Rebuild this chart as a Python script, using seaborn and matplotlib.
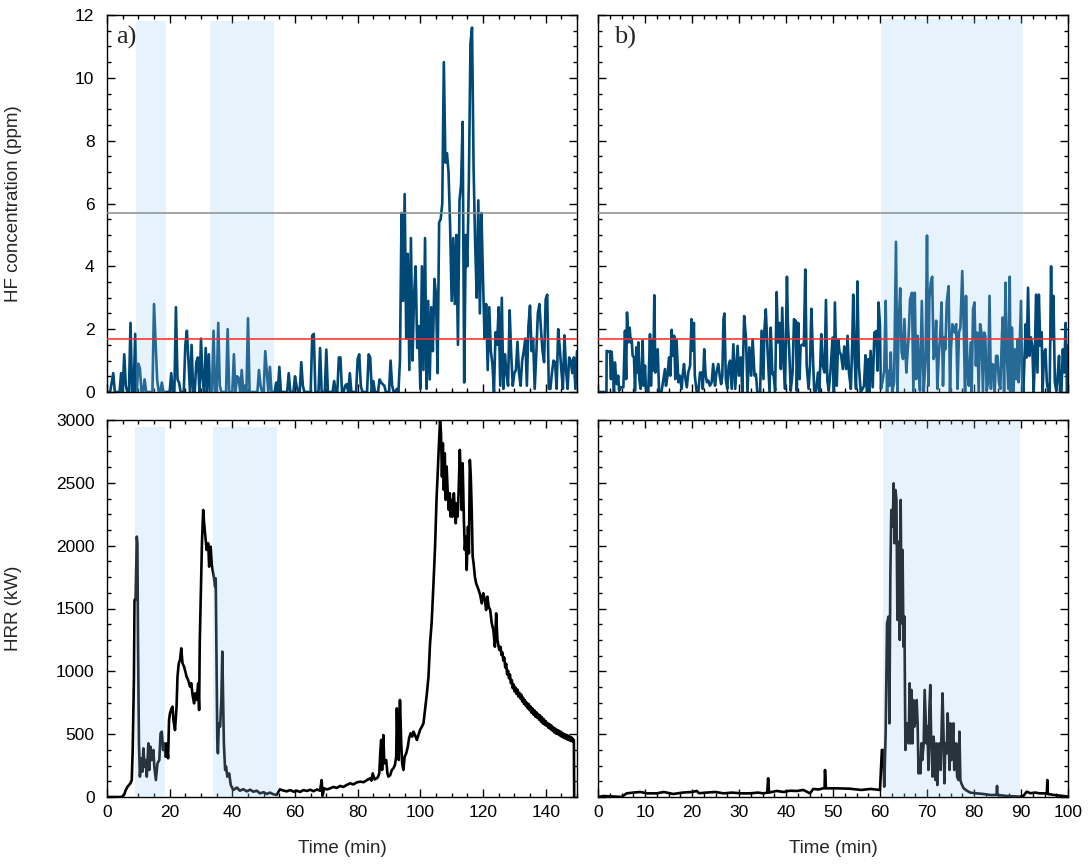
import numpy as np
import matplotlib
matplotlib.use("Agg")
import matplotlib.pyplot as plt
from matplotlib.ticker import MultipleLocator
import seaborn as sns

# ---------------- data ----------------
# HF concentration (ppm), test a): sampled every 0.5 min from 0 to 150 min
hf_a_ppm = [
    0, 0, 0, 0.3, 0.6, 0, 0, 0, 0, 0.6, 0, 1.2, 0.2, 0, 0, 2.2, 0, 0, 1.85, 0,
    0.9, 0.75, 0, 0, 0.4, 0, 0, 0, 0, 0, 2.8, 1.6, 0.4, 0, 0, 0.3, 0, 0, 0, 0,
    0, 0.6, 0, 0, 2.7, 0.4, 0.3, 0, 0, 0, 1.5, 1.95, 1.0, 0, 1.5, 0, 0, 0.95, 1.1, 0,
    1.7, 0.4, 0, 1.4, 0, 1.2, 0, 0, 1.95, 0, 0, 2.2, 0.2, 0, 0, 0, 0, 2.0, 0, 0,
    0, 1.2, 0, 0.5, 0.45, 0, 0.7, 0, 0.2, 0, 2.35, 0, 0, 0, 0, 0, 0, 0.7, 0.2, 0,
    0, 1.3, 0.65, 0, 0.8, 0, 0, 0, 0.3, 0, 0.8, 0, 0, 0, 0, 0, 0.6, 0, 0, 0,
    0.5, 0.2, 0, 0, 0.95, 0.2, 0, 0, 0, 0, 0, 1.8, 1.85, 0, 0, 0, 1.4, 0, 0, 0,
    1.35, 0, 0, 0, 0, 0.35, 0, 0, 1.1, 1.1, 0, 0, 0.2, 0.25, 0, 0.6, 0, 0, 0, 0,
    1.05, 1.2, 0.2, 0, 0, 0, 0, 1.2, 1.1, 0, 0.35, 0, 0, 0, 0.4, 0.3, 0.25, 0.2, 0, 0,
    0, 1.0, 0.2, 0, 0, 0.1, 0, 1.0, 5.7, 2.9, 6.3, 1.7, 4.4, 0.7, 4.9, 1.0, 3.1, 4.0, 1.4, 2.1,
    0.1, 4.0, 0.7, 4.9, 0.1, 2.9, 0.4, 2.7, 1.3, 3.6, 3.1, 0.6, 5.4, 5.5, 6.0, 10.5, 7.3, 7.6, 7.0, 5.3,
    2.9, 4.9, 2.8, 5.0, 1.5, 6.1, 6.6, 8.6, 0.3, 5.0, 4.0, 6.8, 11.1, 11.6, 7.1, 4.7, 3.0, 6.1, 2.5, 5.7,
    3.6, 1.7, 2.8, 0.7, 2.7, 1.3, 0.9, 0, 1.9, 1.5, 2.7, 0.2, 3.0, 0.1, 1.2, 0.6, 0.2, 2.6, 1.2, 0.2,
    0.6, 0.7, 1.6, 0.6, 0.2, 1.0, 1.3, 1.7, 0.2, 2.1, 2.75, 1.3, 1.7, 0.1, 1.2, 2.5, 2.8, 2.0, 1.3, 0.95,
    2.95, 3.1, 0.1, 0.1, 0.6, 1.0, 0.95, 0.1, 2.0, 1.4, 0.7, 0.1, 1.8, 0.7, 0.1, 1.1, 1.0, 0.6, 1.1, 0.1, 1.3,
]
hf_a_time = np.linspace(0, 150, len(hf_a_ppm))

# HF concentration (ppm), test b)
hf_b_time = [
    0, 1.8, 1.84, 2.2, 2.55, 2.76, 2.9, 3.1, 3.4, 3.6,
    3.8, 4.0, 4.3, 4.5, 4.9, 5.4, 5.74, 6.0, 6.17, 6.45,
    6.74, 6.95, 7.16, 7.37, 7.66, 7.87, 8.15, 8.37, 8.58, 8.79,
    9.07, 9.29, 9.5, 9.7, 10.0, 10.2, 10.7, 11.06, 11.27, 11.56,
    11.77, 11.98, 12.2, 12.5, 12.7, 13.0, 13.5, 14.25, 14.46, 14.8,
    15.1, 15.4, 15.67, 15.96, 16.2, 16.45, 16.7, 17.1, 17.4, 17.8,
    18.0, 18.3, 18.5, 18.9, 19.2, 19.6, 19.9, 20.2, 20.4, 20.6,
    21.0, 21.35, 21.7, 22.05, 22.3, 22.6, 22.9, 23.2, 23.5, 23.8,
    24.2, 24.5, 24.9, 25.2, 25.6, 25.9, 26.2, 26.45, 26.7, 26.9,
    27.2, 27.5, 27.8, 28.1, 28.45, 28.8, 29.2, 29.7, 30.0, 30.4,
    30.7, 31.1, 31.5, 31.8, 32.2, 32.6, 32.9, 33.3, 33.6, 33.9,
    34.5, 34.8, 35.2, 35.4, 35.7, 36.0, 36.5, 36.75, 37.1, 37.3,
    37.7, 38.0, 38.3, 38.6, 38.9, 39.2, 39.5, 39.8, 40.2, 40.4,
    40.7, 41.0, 41.4, 41.7, 42.1, 42.3, 42.6, 42.9, 43.1, 43.6,
    43.8, 44.1, 44.4, 44.8, 45.1, 45.4, 45.7, 46.0, 46.4, 46.8,
    47.1, 47.5, 47.8, 48.2, 48.5, 48.8, 49.1, 49.5, 49.9, 50.2,
    50.4, 50.8, 51.1, 51.4, 51.7, 52.1, 52.4, 52.8, 53.1, 53.4,
    53.8, 54.1, 54.3, 54.6, 54.9, 55.2, 55.5, 55.9, 56.3, 56.6,
    56.9, 57.2, 57.5, 57.7, 58.0, 58.45, 58.8, 59.2, 59.45, 59.7,
    60.0, 60.2, 60.5, 60.9, 61.2, 61.5, 61.7, 62.0, 62.3, 62.6,
    63.0, 63.4, 63.7, 64.0, 64.3, 64.6, 64.9, 65.2, 65.6, 65.9,
    66.1, 66.4, 66.8, 67.1, 67.4, 67.7, 68.0, 68.3, 68.5, 68.9,
    69.3, 69.7, 70.0, 70.3, 70.5, 70.8, 71.1, 71.4, 71.7, 71.95,
    72.2, 72.5, 72.8, 73.1, 73.4, 73.7, 73.9, 74.2, 74.6, 74.9,
    75.1, 75.4, 75.6, 75.9, 76.2, 76.5, 76.8, 77.1, 77.5, 77.8,
    78.1, 78.3, 78.6, 78.9, 79.3, 79.5, 79.8, 80.1, 80.4, 80.7,
    81.0, 81.3, 81.6, 81.9, 82.2, 82.4, 82.7, 83.0, 83.3, 83.6,
    83.9, 84.2, 84.4, 84.7, 85.0, 85.3, 85.6, 85.9, 86.1, 86.4,
    86.7, 87.0, 87.3, 87.6, 87.8, 88.1, 88.4, 88.7, 89.0, 89.3,
    89.5, 90.0, 90.25, 90.5, 91.0, 91.2, 91.5, 91.8, 92.1, 92.4,
    92.7, 92.9, 93.2, 93.5, 93.8, 94.1, 94.4, 94.6, 94.9, 95.2,
    95.5, 95.8, 96.1, 96.4, 96.6, 96.9, 97.2, 97.5, 97.8, 98.1,
    98.3, 98.6, 98.9, 99.2, 99.5, 99.8, 100.0,
]
hf_b_ppm = [
    0, 0, 1.31, 1.28, 1.3, 0.41, 1.28, 0.84, 0, 0.94,
    0.52, 0.25, 0.52, 0.04, 0.15, 0.15, 1.95, 0.41, 2.53, 1.58,
    2.05, 1.58, 1.69, 1.15, 1.1, 0.04, 1.42, 0.62, 1.58, 0.41,
    0.1, 0.84, 1.63, 0.2, 0.84, 0.1, 0, 1.84, 0.2, 1.68,
    0.68, 3.08, 0.62, 0.84, 1.36, 0, 0, 0.73, 0.2, 0.52,
    1.1, 0.52, 1.98, 1.15, 1.79, 0.41, 1.68, 0.31, 0.52, 0.1,
    0.52, 0.89, 0.52, 0.15, 0.62, 0.84, 2.32, 1.31, 2.2, 0.52,
    0, 0, 0.62, 0.62, 0.1, 1.36, 0.52, 0.31, 0.36, 0.2,
    0.31, 0.89, 0.2, 0.62, 0.89, 0.52, 0.25, 0.52, 2.32, 2.5,
    0.41, 0.1, 0.84, 1.0, 0.1, 1.52, 0.1, 1.47, 0.52, 1.1,
    0, 2.42, 1.68, 0, 1.42, 0.52, 1.68, 0.52, 0.57, 0,
    0, 1.95, 0.41, 1.95, 2.63, 1.58, 0, 2.05, 0.57, 0.62,
    0.04, 3.18, 1.58, 2.2, 0.73, 2.68, 0.94, 0.1, 3.67, 2.2,
    1.26, 0.04, 0.62, 2.32, 2.26, 0.04, 2.2, 0.41, 1.47, 1.52,
    1.47, 3.9, 0.84, 0.1, 0.84, 2.65, 1.26, 0.04, 0.04, 0.62,
    0, 1.84, 0.84, 0.62, 2.93, 0.36, 0.04, 0.73, 1.73, 0,
    2.85, 0.2, 1.68, 1.26, 1.2, 0.73, 1.45, 0.73, 1.79, 0.62,
    0.1, 1.58, 3.1, 1.05, 0.1, 3.52, 0.84, 0, 0.1, 0.2,
    1.17, 0, 1.05, 0, 1.31, 0.15, 1.89, 1.94, 0.68, 2.85,
    2.11, 0.1, 0.31, 0.68, 2.9, 0, 0.68, 0.2, 1.26, 0,
    0.31, 4.78, 0, 2.21, 3.3, 1.26, 1.05, 2.32, 0.62, 1.36,
    1.79, 2.95, 3.16, 0, 3.16, 0.41, 1.79, 0.62, 0.04, 2.9,
    0, 1.05, 4.98, 0.2, 2.95, 3.48, 3.67, 1.05, 1.26, 2.27,
    0.1, 1.15, 1.79, 2.85, 0.2, 1.74, 1.36, 2.85, 3.37, 0,
    1.36, 2.16, 2.05, 1.89, 2.16, 0.1, 1.89, 2.05, 3.85, 2.11,
    0, 3.06, 0.62, 0.2, 1.58, 0, 2.64, 2.85, 0.84, 1.89,
    0, 2.16, 1.89, 0, 1.89, 1.79, 0.04, 0.31, 3.06, 0.1,
    0.89, 0.84, 0, 1.15, 1.15, 0.31, 0.1, 1.58, 2.37, 0,
    3.48, 1.15, 0.1, 3.67, 0, 2.05, 0, 1.36, 0.41, 1.68,
    0.31, 2.9, 0.31, 0, 2.16, 1.1, 3.32, 1.15, 1.74, 1.47,
    0, 0.84, 3.1, 0.62, 3.1, 1.47, 1.9, 0, 1.26, 1.36,
    0.31, 0, 0, 4.0, 1.68, 3.06, 0.31, 0.04, 0.52, 1.15,
    0, 0, 1.36, 0.62, 2.2, 0, 1.47,
]

# Heat release rate (kW), test a)
hrr_a_time = [
    0, 4.7, 5.5, 6.0, 6.5, 7.0, 7.5, 7.9, 8.2, 8.6,
    8.8, 9.15, 9.5, 9.7, 9.9, 10.2, 10.5, 10.95, 11.3, 11.6,
    12.0, 12.3, 12.7, 13.2, 13.5, 13.9, 14.2, 14.8, 15.1, 15.6,
    16.1, 16.7, 17.1, 17.5, 17.9, 18.3, 18.7, 19.0, 19.5, 19.8,
    20.1, 20.6, 20.9, 21.2, 21.7, 22.2, 22.5, 22.9, 23.3, 23.7,
    24.1, 24.6, 25.0, 25.4, 25.9, 26.5, 26.9, 27.3, 27.8, 28.1,
    28.6, 29.1, 29.4, 29.6, 29.9, 30.3, 30.7, 31.0, 31.5, 31.8,
    32.3, 32.6, 33.1, 33.4, 33.7, 34.1, 34.5, 34.7, 35.0, 35.2,
    35.4, 35.7, 36.1, 36.5, 36.8, 37.1, 37.3, 37.7, 38.0, 38.4,
    39.0, 39.5, 40.3, 41.5, 42.4, 43.5, 44.6, 45.7, 46.7, 47.8,
    48.8, 50.0, 51.0, 52.0, 53.1, 54.1, 55.2, 56.2, 57.3, 58.5,
    59.6, 60.6, 61.6, 62.7, 63.8, 64.9, 65.9, 67.0, 68.0, 68.5,
    68.8, 69.3, 70.2, 71.2, 72.3, 73.3, 74.4, 75.4, 76.5, 77.6,
    78.6, 79.7, 80.8, 81.9, 83.0, 84.0, 84.4, 84.8, 85.4, 86.1,
    86.5, 86.9, 87.2, 87.5, 87.8, 88.2, 88.5, 89.1, 89.5, 89.8,
    90.4, 90.9, 91.4, 91.9, 92.3, 92.5, 92.8, 93.1, 93.5, 93.9,
    94.2, 94.6, 95.0, 95.5, 96.0, 96.4, 96.9, 97.4, 97.8, 98.3,
    98.9, 99.4, 99.9, 100.5, 101.0, 101.5, 102.1, 102.6, 103.1, 103.6,
    104.2, 104.7, 105.2, 105.5, 105.9, 106.3, 106.6, 106.9, 107.2, 107.5,
    107.8, 108.1, 108.4, 108.7, 109.1, 109.4, 109.7, 110.0, 110.3, 110.7,
    111.0, 111.3, 111.6, 111.9, 112.2, 112.6, 112.9, 113.2, 113.5, 113.9,
    114.2, 114.5, 114.8, 115.2, 115.5, 115.8, 116.1, 116.4, 116.7, 117.0,
    117.4, 117.8, 118.2, 118.6, 119.1, 119.6, 120.1, 120.6, 121.0, 121.4,
    121.8, 122.3, 122.8, 123.3, 123.8, 124.2, 124.6, 125.2, 125.6, 125.9,
    126.2, 126.5, 126.8, 127.1, 127.4, 127.7, 128.0, 128.3, 128.6, 128.9,
    129.2, 129.5, 129.8, 130.1, 130.4, 130.7, 131.0, 131.3, 131.6, 131.9,
    132.2, 132.5, 132.8, 133.1, 133.4, 133.7, 134.0, 134.3, 134.6, 134.9,
    135.2, 135.5, 135.8, 136.1, 136.4, 136.7, 137.0, 137.3, 137.6, 137.9,
    138.2, 138.5, 138.8, 139.1, 139.4, 139.7, 140.0, 140.3, 140.6, 140.9,
    141.2, 141.5, 141.8, 142.1, 142.4, 142.7, 143.0, 143.3, 143.6, 143.9,
    144.2, 144.5, 144.8, 145.1, 145.4, 145.7, 146.0, 146.3, 146.6, 146.9,
    147.2, 147.5, 147.8, 148.1, 148.4, 148.7, 149.0, 149.1,
]
hrr_a_kw = [
    0, 0, 20, 56, 80, 95, 110, 135, 374, 958,
    1568, 1568, 2072, 2019, 1223, 427, 162, 308, 202, 387,
    241, 294, 162, 427, 215, 400, 294, 374, 241, 135,
    268, 294, 507, 520, 374, 427, 321, 427, 308, 613,
    666, 706, 719, 613, 533, 719, 958, 1064, 1090, 1183,
    1064, 1037, 997, 958, 931, 878, 905, 812, 745, 825,
    772, 905, 692, 1223, 1568, 2019, 2284, 2178, 2045, 1966,
    2019, 1833, 1992, 1860, 1807, 1754, 1674, 1740, 958, 454,
    348, 586, 560, 772, 1157, 746, 427, 215, 242, 162,
    188, 95, 56, 75, 50, 62, 45, 58, 42, 50,
    29, 38, 24, 35, 22, 16, 61, 52, 45, 55,
    42, 50, 40, 55, 48, 58, 46, 60, 50, 135,
    10, 69, 60, 69, 80, 72, 88, 80, 96, 109,
    100, 116, 122, 118, 135, 149, 130, 188, 140, 149,
    160, 188, 348, 454, 215, 493, 268, 294, 188, 162,
    175, 215, 228, 255, 321, 706, 374, 294, 772, 427,
    268, 215, 321, 348, 400, 467, 507, 480, 520, 493,
    454, 493, 533, 560, 586, 692, 825, 958, 1223, 1382,
    1701, 1992, 2390, 2549, 2788, 3000, 2894, 2549, 2815, 2443,
    2735, 2364, 2629, 2443, 2284, 2417, 2231, 2364, 2231, 2417,
    2284, 2178, 2337, 2231, 2417, 2762, 2549, 2284, 2656, 2204,
    1966, 2072, 1807, 2151, 1939, 2682, 2549, 2284, 1913, 1860,
    1754, 1701, 1674, 1648, 1608, 1541, 1621, 1568, 1488, 1594,
    1515, 1488, 1382, 1329, 1196, 1462, 1250, 1170, 1195, 1130,
    1150, 1085, 1110, 1030, 1060, 975, 1005, 945, 975, 905,
    930, 865, 895, 840, 870, 820, 855, 800, 830, 785,
    815, 760, 790, 740, 770, 725, 750, 705, 740, 690,
    720, 670, 705, 655, 690, 640, 675, 630, 660, 615,
    650, 600, 635, 585, 620, 575, 605, 565, 590, 550,
    580, 540, 570, 530, 555, 515, 545, 505, 535, 500,
    528, 490, 520, 480, 510, 472, 500, 465, 495, 458,
    488, 452, 480, 445, 472, 440, 455, 0,
]

# Heat release rate (kW), test b)
hrr_b_time = [
    0, 1.2, 2.5, 3.8, 5.0, 6.1, 7.5, 9.0, 10.5, 12.5,
    14.0, 16.0, 18.0, 20.0, 21.0, 21.5, 23.0, 25.0, 26.7, 28.5,
    30.5, 32.3, 34.0, 35.2, 36.0, 36.2, 36.4, 38.0, 39.5, 40.8,
    42.3, 43.7, 45.1, 45.8, 47.0, 47.9, 48.2, 48.3, 48.5, 50.8,
    53.6, 56.0, 58.0, 60.0, 60.4, 60.7, 60.9, 61.2, 61.5, 61.8,
    62.0, 62.2, 62.4, 62.7, 62.9, 63.1, 63.3, 63.5, 63.7, 63.9,
    64.2, 64.4, 64.6, 64.8, 65.0, 65.2, 65.4, 65.6, 65.9, 66.1,
    66.3, 66.5, 66.7, 66.9, 67.1, 67.3, 67.6, 67.8, 68.0, 68.2,
    68.4, 68.6, 68.8, 69.0, 69.3, 69.5, 69.7, 69.9, 70.1, 70.3,
    70.5, 70.7, 70.9, 71.2, 71.4, 71.6, 71.8, 72.0, 72.2, 72.4,
    72.6, 72.9, 73.1, 73.3, 73.5, 73.7, 73.9, 74.2, 74.4, 74.6,
    74.8, 75.0, 75.2, 75.4, 75.6, 75.8, 76.0, 76.2, 76.4, 76.7,
    76.9, 77.1, 77.3, 77.8, 78.5, 79.2, 80.5, 82.0, 83.5, 84.8,
    84.9, 85.0, 87.0, 88.5, 89.8, 90.5, 91.2, 92.0, 93.0, 94.0,
    95.5, 95.6, 95.7, 97.0, 98.5, 100.0,
]
hrr_b_kw = [
    0, 8, 5, 3, 0, 29, 35, 40, 29, 29,
    40, 24, 35, 40, 48, 30, 35, 40, 29, 35,
    29, 29, 35, 29, 35, 149, 35, 48, 40, 50,
    48, 56, 29, 64, 60, 69, 69, 215, 69, 69,
    66, 56, 64, 56, 374, 374, 82, 507, 1382, 1435,
    586, 1754, 2284, 2151, 2496, 2019, 2443, 2364, 1409, 2032,
    1250, 2364, 1382, 1966, 1196, 1435, 374, 586, 586, 427,
    905, 427, 852, 427, 772, 560, 610, 772, 586, 188,
    268, 188, 427, 294, 427, 852, 640, 427, 560, 215,
    692, 891, 427, 162, 480, 348, 135, 427, 95, 294,
    427, 215, 533, 825, 533, 109, 427, 348, 666, 427,
    215, 586, 294, 427, 586, 215, 294, 427, 162, 135,
    520, 135, 109, 69, 50, 35, 29, 24, 16, 16,
    88, 16, 8, 5, 3, 8, 42, 30, 35, 29,
    29, 135, 24, 16, 10, 3,
]

# reference levels (ppm) and shaded intervals (min)
hf_levels = [5.7, 1.7]
hf_level_colors = ["#8c8c8c", "#ff2a2a"]
shade_hf_a = [(9.3, 18.7), (32.9, 53.2)]
shade_hrr_a = [(8.9, 18.4), (33.9, 54.2)]
shade_hf_b = [(60.2, 90.4)]
shade_hrr_b = [(60.7, 89.8)]

# ---------------- style ----------------
sns.set_theme(style="ticks")
plt.rcParams["font.family"] = ["Liberation Sans", "DejaVu Sans"]
plt.rcParams["axes.linewidth"] = 1.0

HF_COLOR = "#004876"
SHADE = "#9CD0F8"
FS = 12.5

fig = plt.figure(figsize=(10.9, 8.65), dpi=100)
W, H = 1090, 865


def add_ax(x0, y_top, w=470, h=377):
    return fig.add_axes([x0 / W, 1 - (y_top + h) / H, w / W, h / H])


ax_hf_a = add_ax(107, 15)
ax_hf_b = add_ax(598, 15)
ax_hrr_a = add_ax(107, 420)
ax_hrr_b = add_ax(598, 420)


def style(ax, xmax, xmaj, xmin_, ymax, ymaj, ymin_, xlabels, ylabels):
    ax.set_xlim(0, xmax)
    ax.set_ylim(0, ymax)
    ax.xaxis.set_major_locator(MultipleLocator(xmaj))
    ax.xaxis.set_minor_locator(MultipleLocator(xmin_))
    ax.yaxis.set_major_locator(MultipleLocator(ymaj))
    ax.yaxis.set_minor_locator(MultipleLocator(ymin_))
    ax.tick_params(which="both", direction="in", top=True, right=True,
                   color="black", width=1.0, labelsize=FS, labelcolor="black")
    ax.tick_params(which="major", length=6)
    ax.tick_params(which="minor", length=3)
    ax.tick_params(axis="x", pad=6)
    ax.tick_params(axis="y", pad=9)
    if not xlabels:
        ax.tick_params(axis="x", labelbottom=False)
    if not ylabels:
        ax.tick_params(axis="y", labelleft=False)
    for s in ax.spines.values():
        s.set_color("black")
        s.set_linewidth(1.0)
    ax.set_xlabel("")
    ax.set_ylabel("")


# HF panels
for ax, t, v, shades, top in [
    (ax_hf_a, hf_a_time, hf_a_ppm, shade_hf_a, 0.983),
    (ax_hf_b, hf_b_time, hf_b_ppm, shade_hf_b, 0.99),
]:
    sns.lineplot(x=t, y=v, ax=ax, color=HF_COLOR, linewidth=1.9,
                 estimator=None, sort=False, zorder=2)
    for (a, b) in shades:
        ax.axvspan(a, b, ymin=0, ymax=top, color=SHADE, alpha=0.25, lw=0, zorder=3)
    for lvl, c in zip(hf_levels, hf_level_colors):
        ax.axhline(lvl, color=c, lw=1.1, zorder=4)

# HRR panels
for ax, t, v, shades, top in [
    (ax_hrr_a, hrr_a_time, hrr_a_kw, shade_hrr_a, 0.982),
    (ax_hrr_b, hrr_b_time, hrr_b_kw, shade_hrr_b, 0.995),
]:
    sns.lineplot(x=t, y=v, ax=ax, color="black", linewidth=1.9,
                 estimator=None, sort=False, zorder=2)
    for (a, b) in shades:
        ax.axvspan(a, b, ymin=0, ymax=top, color=SHADE, alpha=0.25, lw=0, zorder=3)

style(ax_hf_a, 150, 20, 5, 12, 2, 0.5, False, True)
style(ax_hf_b, 100, 10, 2.5, 12, 2, 0.5, False, False)
style(ax_hrr_a, 150, 20, 5, 3000, 500, 125, True, True)
style(ax_hrr_b, 100, 10, 2.5, 3000, 500, 125, True, False)

ax_hf_a.set_ylabel("HF concentration (ppm)", fontsize=13.5)
ax_hrr_a.set_ylabel("HRR (kW)", fontsize=13.5)
ax_hf_a.yaxis.set_label_coords(-0.18, 0.5)
ax_hrr_a.yaxis.set_label_coords(-0.18, 0.5)
for ax in (ax_hrr_a, ax_hrr_b):
    ax.set_xlabel("Time (min)", fontsize=13.5)
    ax.xaxis.set_label_coords(0.5, -0.115)

ax_hf_a.text(0.019, 0.972, "a)", transform=ax_hf_a.transAxes, fontsize=19,
             family=["Liberation Serif", "DejaVu Serif"], va="top", ha="left", zorder=5)
ax_hf_b.text(0.034, 0.972, "b)", transform=ax_hf_b.transAxes, fontsize=19,
             family=["Liberation Serif", "DejaVu Serif"], va="top", ha="left", zorder=5)

fig.savefig("out.png", dpi=100)
